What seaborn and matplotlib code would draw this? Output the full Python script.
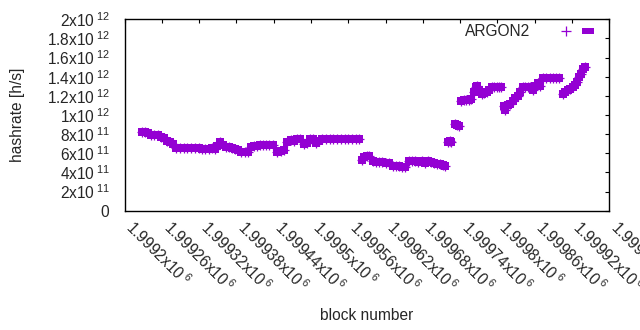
import matplotlib
matplotlib.use("Agg")
import matplotlib.pyplot as plt
import pandas as pd
import seaborn as sns
from matplotlib.lines import Line2D
from matplotlib.legend_handler import HandlerTuple

# block numbers and hashrate (in units of 1e11 h/s)
blocks = [
    1999228, 1999233, 1999238, 1999243, 1999248, 1999253, 1999258, 1999263,
    1999268, 1999273, 1999278, 1999283, 1999289, 1999295, 1999301, 1999307,
    1999313, 1999319, 1999325, 1999330, 1999335, 1999340, 1999345, 1999349,
    1999354, 1999358, 1999363, 1999368, 1999373, 1999378, 1999383, 1999388,
    1999393, 1999398, 1999403, 1999408, 1999413, 1999418, 1999423, 1999428,
    1999433, 1999438, 1999446, 1999451, 1999456, 1999462, 1999467, 1999472,
    1999478, 1999483, 1999488, 1999493, 1999498, 1999503, 1999508, 1999513,
    1999518, 1999524, 1999530, 1999536, 1999542, 1999548, 1999554, 1999560,
    1999566, 1999572, 1999578, 1999582, 1999586, 1999590, 1999594, 1999600,
    1999605, 1999610, 1999615, 1999620, 1999625, 1999632, 1999637, 1999642,
    1999647, 1999652, 1999658, 1999663, 1999668, 1999673, 1999678, 1999683,
    1999688, 1999693, 1999698, 1999703, 1999708, 1999713, 1999716,
    1999720, 1999723, 1999726, 1999732, 1999735, 1999738,
    1999742, 1999746, 1999750, 1999754, 1999758, 1999762, 1999765, 1999768,
    1999771, 1999775, 1999779, 1999783, 1999787, 1999791, 1999795, 1999799,
    1999803, 1999806, 1999810, 1999813, 1999817, 1999821, 1999825, 1999829,
    1999833, 1999837, 1999841, 1999845, 1999849, 1999853, 1999857, 1999861,
    1999865, 1999869, 1999874, 1999879, 1999884, 1999889, 1999894, 1999899,
    1999905, 1999909, 1999913, 1999917, 1999921, 1999925, 1999929, 1999932,
    1999935, 1999938, 1999941,
]
hashrate_e11 = [
    8.2, 8.25, 8.15, 7.9, 7.9, 7.9, 7.65, 7.55,
    7.25, 7.2, 6.95, 6.6, 6.55, 6.55, 6.55, 6.55,
    6.55, 6.55, 6.45, 6.5, 6.4, 6.55, 6.45, 6.8,
    7.2, 6.9, 6.7, 6.65, 6.6, 6.4, 6.3, 6.1,
    6.15, 6.1, 6.7, 6.75, 6.8, 6.9, 6.9, 6.9,
    6.9, 6.85, 6.1, 6.25, 6.35, 7.2, 7.35, 7.25,
    7.5, 7.5, 7.0, 7.1, 7.5, 7.5, 7.1, 7.3,
    7.5, 7.5, 7.5, 7.5, 7.5, 7.5, 7.5, 7.5,
    7.5, 7.5, 7.5, 5.3, 5.6, 5.75, 5.7, 5.2,
    5.1, 5.1, 5.1, 5.0, 5.0, 4.7, 4.65, 4.7,
    4.6, 4.55, 5.15, 5.15, 5.2, 5.1, 5.15, 5.0,
    5.15, 5.05, 5.0, 4.9, 4.9, 4.8, 4.7,
    7.15, 7.3, 7.2, 9.05, 9.0, 8.8,
    11.5, 11.55, 11.55, 11.6, 11.7, 12.4, 12.9, 13.0,
    12.6, 12.2, 12.3, 12.4, 12.6, 12.9, 12.9, 12.9,
    12.9, 12.9, 10.9, 10.5, 11.0, 11.2, 11.5, 11.8,
    12.0, 12.4, 12.9, 12.9, 12.9, 12.9, 12.6, 13.0,
    13.3, 13.0, 13.9, 13.9, 13.9, 13.9, 13.9, 13.9,
    12.2, 12.4, 12.6, 12.7, 12.9, 13.1, 13.5, 14.0,
    14.3, 14.8, 15.0,
]

xticks = list(range(1999200, 1999981, 60))
xtick_labels = [
    "1.9992", "1.99926", "1.99932", "1.99938", "1.99944", "1.9995", "1.99956",
    "1.99962", "1.99968", "1.99974", "1.9998", "1.99986", "1.99992", "1.99998",
]
yticks = [0, 2e11, 4e11, 6e11, 8e11, 1e12, 1.2e12, 1.4e12, 1.6e12, 1.8e12, 2e12]
ytick_labels = ["0", "2x10", "4x10", "6x10", "8x10", "1x10", "1.2x10", "1.4x10",
                "1.6x10", "1.8x10", "2x10"]
ytick_exp = ["", "11", "11", "11", "11", "12", "12", "12", "12", "12", "12"]

df = pd.DataFrame({"block": blocks, "hashrate": [v * 1e11 for v in hashrate_e11]})

color = "#9400d3"
sns.set_style("white")
plt.rcParams["font.family"] = ["Liberation Sans", "DejaVu Sans"]
plt.rcParams["mathtext.fontset"] = "custom"
plt.rcParams["mathtext.rm"] = "Liberation Sans"
plt.rcParams["mathtext.it"] = "Liberation Sans"
plt.rcParams["mathtext.bf"] = "Liberation Sans"

fig = plt.figure(figsize=(6.4, 3.3), dpi=100)
ax = fig.add_axes([0.1948, 0.3615, 0.757, 0.58])

sns.scatterplot(data=df, x="block", y="hashrate", marker="s", s=30,
                color=color, linewidth=0, ax=ax)
sns.scatterplot(data=df, x="block", y="hashrate", marker="+", s=60,
                color=color, linewidth=0.9, ax=ax)

ax.set_xlim(1999200, 1999980)
ax.set_ylim(0, 2e12)
ax.set_xticks(xticks)
ax.set_xticklabels([f"{t}x10$^{{\\;6}}$" for t in xtick_labels],
                   rotation=-45, ha="left", va="baseline", rotation_mode="anchor")
ax.set_yticks(yticks)
ax.set_yticklabels([f"{l}$^{{\\;{e}}}$" if e else l
                    for l, e in zip(ytick_labels, ytick_exp)])
ax.tick_params(direction="in", length=3, width=0.8, labelsize=11.2,
               top=True, right=True, color="black")
ax.tick_params(axis="y", pad=11)
ax.tick_params(axis="x", pad=13)
for sp in ax.spines.values():
    sp.set_linewidth(1.0)
    sp.set_color("black")

ax.set_xlabel("block number", fontsize=11.2, va="center")
ax.xaxis.set_label_coords(0.5, -0.545)
ax.set_ylabel("hashrate [h/s]", fontsize=11.2, va="center")
ax.yaxis.set_label_coords(-0.222, 0.5)

# key sample: a plus and a flat filled box, as gnuplot draws it
h_plus = Line2D([], [], marker="+", color=color, linestyle="none",
                markersize=7.5, markeredgewidth=0.9)
h_box = Line2D([], [], marker=[(-1, -0.6), (1, -0.6), (1, 0.6), (-1, 0.6)],
               color=color, linestyle="none", markersize=8, markeredgewidth=0)
ax.legend(handles=[(h_plus, h_box)], labels=["ARGON2"],
          handler_map={tuple: HandlerTuple(ndivide=None, pad=0.14)},
          loc="upper right", bbox_to_anchor=(1.0, 1.031), frameon=False,
          markerfirst=False, fontsize=11.2, handlelength=2.68,
          handletextpad=1.67, borderaxespad=0.3)

fig.savefig("out.png", dpi=100)
